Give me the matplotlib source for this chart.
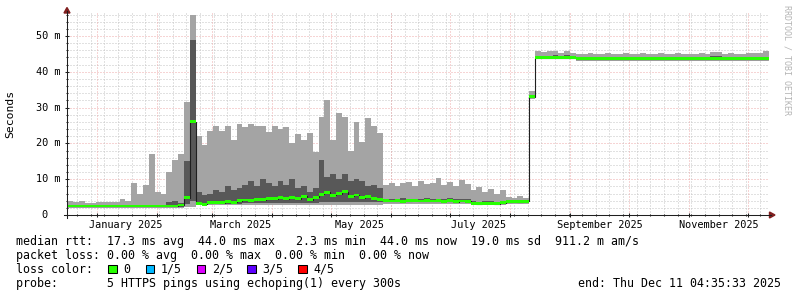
import numpy as np
import matplotlib.pyplot as plt
import matplotlib.dates as mdates
from matplotlib.patches import Rectangle, Polygon
from matplotlib.lines import Line2D
from datetime import datetime, timedelta

W, H = 797, 297

# time window of the graph and sample step (days)
start = datetime(2024, 12, 16, 19, 0)
end = datetime(2025, 12, 11, 4, 35, 33)
step_days = 3

# smoke: 5 pings sorted -> min, 2nd, 4th, max (ms), plus median
max_ms = [4.0, 3.7, 3.8, 3.4, 3.3, 3.6, 3.5, 3.7, 3.5, 4.4, 3.8,
          9.0, 6.0, 8.5, 17.0, 6.5, 6.0, 12.0, 15.5, 17.0, 31.7, 56.0,
          22.0, 19.5, 23.5, 25.0, 23.5, 25.0, 21.0, 25.5, 24.5, 25.5, 25.0,
          24.8, 23.3, 25.0, 24.0, 24.5, 20.0, 22.5, 21.0, 23.0, 17.5, 27.5,
          32.0, 21.0, 28.5, 27.5, 18.0, 26.0, 20.5, 27.0, 25.0, 23.0, 8.5,
          9.0, 8.0, 8.8, 9.3, 8.2, 9.5, 8.6, 9.0, 10.2, 8.4, 9.1,
          8.0, 9.8, 8.7, 7.0, 7.8, 6.5, 7.2, 6.0, 7.0, 5.0, 4.8,
          5.2, 4.8, 34.5, 45.8, 45.5, 45.8, 45.8, 45.3, 45.8, 45.3, 45.0,
          45.0, 45.3, 45.0, 45.0, 45.2, 45.0, 45.0, 45.3, 45.0, 45.0, 45.2,
          45.0, 45.0, 45.3, 45.0, 45.0, 45.2, 45.0, 45.0, 45.0, 45.2, 45.0,
          45.6, 45.6, 45.0, 45.2, 45.0, 45.0, 45.3, 45.2, 45.2, 45.8]

hi_ms = ([2.8] * 11 +
         [2.8, 2.8, 2.8, 2.9, 2.8, 2.8, 3.5, 4.0, 3.3, 15.0, 49.0,
          6.5, 5.5, 6.0, 7.0, 6.5, 8.0, 7.0, 7.5, 8.5, 9.5, 8.0,
          10.0, 9.0, 8.0, 9.5, 8.5, 10.0, 7.5, 8.0, 6.5, 7.5, 15.5,
          10.5, 11.5, 10.0, 11.5, 9.5, 10.0, 9.5, 8.0, 8.5, 7.5, 4.5,
          4.6, 4.5, 4.8, 4.5, 4.6, 4.5, 4.7, 4.5, 4.6, 4.5, 4.8,
          4.5, 4.6, 4.5, 3.8, 3.7, 3.8, 3.9, 3.7, 3.8, 4.1, 4.2,
          4.1, 4.2, 33.5, 44.3, 44.3, 44.3, 44.6, 44.3, 44.6, 44.3, 44.1] +
         [44.1] * 22 + [44.3, 44.3] + [44.1] * 8)

lo_ms = ([2.3] * 20 + [3.0, 4.0] + [3.0] * 8 + [3.3] * 13 + [3.7] * 11 +
         [3.6] * 15 + [3.0] * 6 + [3.4] * 4 + [32.8] + [43.6] * 7 + [43.4] * 33)

min_ms = ([2.0] * 20 + [2.3, 2.3] + [2.7] * 32 + [3.2] * 15 + [2.8] * 6 +
          [3.2] * 4 + [32.5] + [43.5] * 7 + [43.1] * 33)

median_ms = ([2.5] * 19 + [2.8, 4.8, 26.0,
             3.3, 3.0, 3.4, 3.5, 3.4, 3.7, 3.6, 4.0,
             4.2, 4.1, 4.4, 4.3, 4.6, 4.5, 4.8, 4.6, 5.0,
             4.5, 5.2, 4.3, 5.0,
             5.8, 6.3, 5.5, 6.0, 6.5, 5.2, 5.6, 4.8, 5.1, 4.5, 4.3,
             4.0, 3.9, 4.0, 3.8, 4.0, 4.1, 3.9, 4.0, 3.9, 4.0, 3.8, 4.0, 3.7, 3.9, 3.8,
             3.3, 3.2, 3.3, 3.3, 3.2, 3.4,
             3.7, 3.8, 3.7, 3.8,
             33.0] + [43.9] * 7 + [43.7] * 33)

month_labels = ["January 2025", "March 2025", "May 2025",
                "July 2025", "September 2025", "November 2025"]
label_months = [datetime(2025, m, 1) for m in (1, 3, 5, 7, 9, 11)]
y_ticks = [0, 10, 20, 30, 40, 50]
y_labels = ["0", "10 m", "20 m", "30 m", "40 m", "50 m"]

loss_labels = ["0", "1/5", "2/5", "3/5", "4/5"]
loss_colors = ["#26ff00", "#00b8ff", "#dd00ff", "#5e00ff", "#ff0000"]

legend_lines = [
    "median rtt:  17.3 ms avg  44.0 ms max   2.3 ms min  44.0 ms now  19.0 ms sd  911.2 m am/s",
    "packet loss: 0.00 % avg  0.00 % max  0.00 % min  0.00 % now",
    "loss color:",
    "probe:       5 HTTPS pings using echoping(1) every 300s",
]
end_text = "end: Thu Dec 11 04:35:33 2025"

axis_col = "#1f1f1f"
arrow_col = "#801f1f"
grid_col = "#c4c4c4"
mgrid_col = "#eeaaaa"

plt.rcParams['font.family'] = ['DejaVu Sans Mono']


def fx(x):
    return x / W


def fy(y):
    return 1 - y / H


fig = plt.figure(figsize=(W / 100, H / 100), dpi=100)
fig.patch.set_facecolor("white")
ymax = 57.0
ax = fig.add_axes([fx(67), fy(215), 700.8 / W, (ymax * 3.58) / H])
ax.set_facecolor("white")

edges = [start + timedelta(days=step_days * i) for i in range(len(max_ms) + 1)]
x = mdates.date2num(edges)


def ext(v):
    return np.append(np.asarray(v, float), v[-1])


ax.fill_between(x, ext(min_ms), ext(max_ms), step="post", color="#a4a4a4", lw=0, zorder=2)
ax.fill_between(x, ext(lo_ms), ext(hi_ms), step="post", color="#585858", lw=0, zorder=3)
ax.step(x, ext(median_ms), where="post", color="#202020", lw=0.8, zorder=4)
med = ext(median_ms)
ax.fill_between(x, med - 0.4, med + 0.4, step="post", color=loss_colors[0], lw=0, zorder=5)

# grid (dotted, drawn under the data)
gkw = dict(lw=0.72, ls=(0, (1, 2)), zorder=1)
for v in np.arange(2, ymax, 2):
    ax.axhline(v, color=mgrid_col if v % 10 == 0 else grid_col, **gkw)

month_starts = [datetime(2025, m, 1) for m in range(1, 13)]
d = datetime(2024, 12, 22)
weeks = []
while d < end:
    weeks.append(d)
    d += timedelta(days=7)
for w in weeks:
    ax.axvline(mdates.date2num(w), color=grid_col, **gkw)
for m in month_starts:
    ax.axvline(mdates.date2num(m), color=mgrid_col, **gkw)

ax.set_xlim(mdates.date2num(start), mdates.date2num(end))
ax.set_ylim(0, ymax)
for s in ax.spines.values():
    s.set_visible(False)

ax.set_xticks(mdates.date2num(month_starts))
ax.set_xticks(mdates.date2num(weeks), minor=True)
ax.set_yticks(y_ticks)
ax.set_yticks(np.arange(2, ymax, 2), minor=True)
ax.tick_params(which="both", labelbottom=False, labelleft=False, color=axis_col, width=0.75)
ax.tick_params(which="major", direction="inout", length=3.5)
ax.tick_params(which="minor", direction="inout", length=2)

for m, lab in zip(label_months, month_labels):
    ax.text(mdates.date2num(m + timedelta(days=15)), -10 / (ymax * 3.58), lab,
            transform=ax.get_xaxis_transform(), ha="center", va="center", size=7.4)

for v, lab in zip(y_ticks, y_labels):
    xr = 60.5 if lab != "0" else 48.0
    fig.text(fx(xr), fy(215 - v * 3.58), lab, ha="right", va="center", size=7.4)

fig.text(fx(10.5), fy(114), "Seconds", rotation=90, ha="center", va="center", size=8.2)

# axis lines and arrows
fig.add_artist(Line2D([fx(64), fx(771)], [fy(215), fy(215)], color=axis_col, lw=0.75))
fig.add_artist(Line2D([fx(67), fx(67)], [fy(218), fy(11)], color=axis_col, lw=0.75))
fig.add_artist(Polygon([(fx(64), fy(13)), (fx(70), fy(13)), (fx(67), fy(7.5))],
                       closed=True, color=arrow_col))
fig.add_artist(Polygon([(fx(769.5), fy(212)), (fx(769.5), fy(218)), (fx(775), fy(215))],
                       closed=True, color=arrow_col))

fig.text(fx(787), fy(60), "RRDTOOL / TOBI OETIKER", rotation=270, ha="center",
         va="center", color="#b4b4b4", size=6)

# legend text
line_y = [241.5, 255.3, 269.3, 283.3]
for txt, yy in zip(legend_lines, line_y):
    fig.text(fx(16.5), fy(yy), txt, ha="left", va="center", size=8.4)
fig.text(fx(780.5), fy(line_y[3]), end_text, ha="right", va="center", size=8.4)

box_x = [108.3, 146.0, 197.0, 247.3, 298.3]
lab_x = [123.3, 160.7, 211.7, 262.7, 313.3]
for bx, lx, lab, col in zip(box_x, lab_x, loss_labels, loss_colors):
    fig.add_artist(Rectangle((fx(bx), fy(273.3)), 8.4 / W, 8.4 / H, facecolor=col,
                             edgecolor="black", lw=0.75))
    fig.text(fx(lx), fy(line_y[2]), lab, ha="left", va="center", size=8.4)

fig.savefig("out.png", dpi=100, facecolor="white")
